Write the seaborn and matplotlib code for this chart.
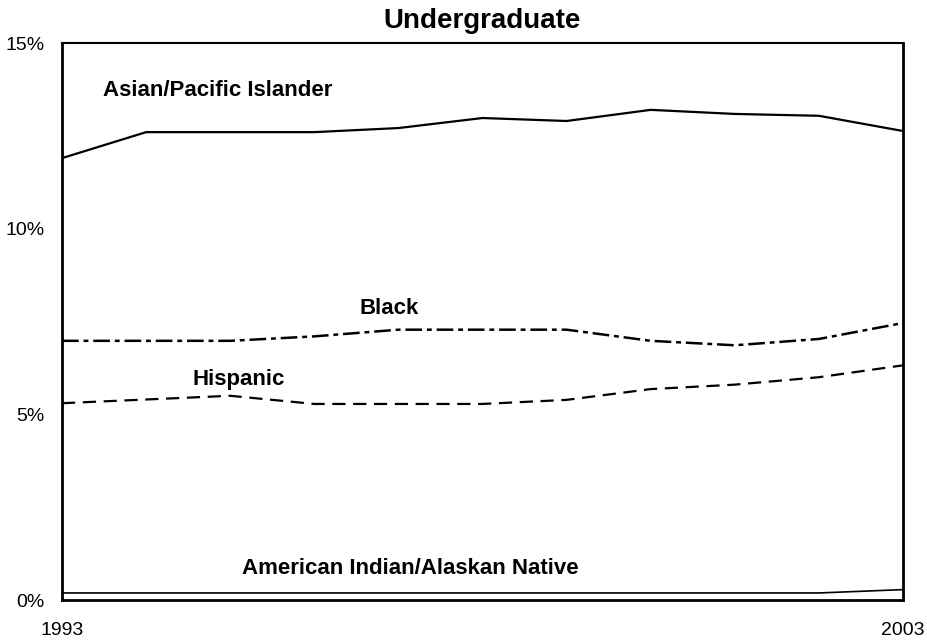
import numpy as np
import pandas as pd
import matplotlib
matplotlib.use("Agg")
import matplotlib.pyplot as plt
import seaborn as sns

# data
years = list(range(1993, 2004))
asian = [11.90, 12.60, 12.60, 12.60, 12.71, 12.98, 12.90, 13.20, 13.09, 13.04, 12.63]
black = [6.98, 6.98, 6.98, 7.10, 7.28, 7.28, 7.28, 6.98, 6.86, 7.03, 7.46]
hispanic = [5.30, 5.40, 5.50, 5.28, 5.28, 5.28, 5.39, 5.68, 5.80, 6.00, 6.32]
amind = [0.19, 0.19, 0.19, 0.19, 0.19, 0.19, 0.19, 0.19, 0.19, 0.19, 0.28]
yticks = [0, 5, 10, 15]

sns.set_style("white")
plt.rcParams['font.family'] = ['Liberation Sans', 'DejaVu Sans']
plt.rcParams['lines.scale_dashes'] = False

fig = plt.figure(figsize=(9.27, 6.42), dpi=100)
ax = fig.add_axes([0.0669, 0.0654, 0.9072, 0.8676])

df = pd.DataFrame({'year': years, 'asian': asian, 'black': black,
                   'hispanic': hispanic, 'amind': amind})

sns.lineplot(data=df, x='year', y='asian', color='black', lw=1.6, ax=ax)
l_b = sns.lineplot(data=df, x='year', y='black', color='black', lw=1.8, ax=ax).lines[-1]
l_b.set_dashes((12, 3.5, 3.5, 3.5))
l_h = sns.lineplot(data=df, x='year', y='hispanic', color='black', lw=1.6, ax=ax).lines[-1]
l_h.set_dashes((9.5, 5.5))
sns.lineplot(data=df, x='year', y='amind', color='black', lw=1.2, ax=ax)

ax.set_xlim(1993, 2003)
ax.set_ylim(0, 15)
ax.set_xticks(years)
ax.set_xticklabels(['1993'] + [''] * 9 + ['2003'])
ax.set_yticks(yticks)
ax.set_yticklabels([f'{v}%' for v in yticks])
ax.set_xlabel('')
ax.set_ylabel('')

ax.tick_params(axis='x', direction='out', length=5, width=1, color='#555555',
               labelsize=14, labelcolor='black', pad=11)
ax.tick_params(axis='y', direction='out', length=4.5, width=1, color='#888888',
               labelsize=14, labelcolor='black', pad=8)

for side in ['left', 'bottom', 'right']:
    ax.spines[side].set_color('black')
    ax.spines[side].set_linewidth(2)
ax.spines['top'].set_color('black')
ax.spines['top'].set_linewidth(1.5)

ax.set_title('Undergraduate', fontsize=20, fontweight='bold', color='black', pad=11)

lab = dict(fontsize=16, fontweight='bold', color='black')
ax.text(1993.49, 13.71, 'Asian/Pacific Islander', ha='left', va='center', **lab)
ax.text(1996.89, 7.86, 'Black', ha='center', va='center', **lab)
ax.text(1994.55, 5.93, 'Hispanic', ha='left', va='center', **lab)
ax.text(1995.14, 0.85, 'American Indian/Alaskan Native', ha='left', va='center', **lab)

fig.savefig('out.png', dpi=100)
